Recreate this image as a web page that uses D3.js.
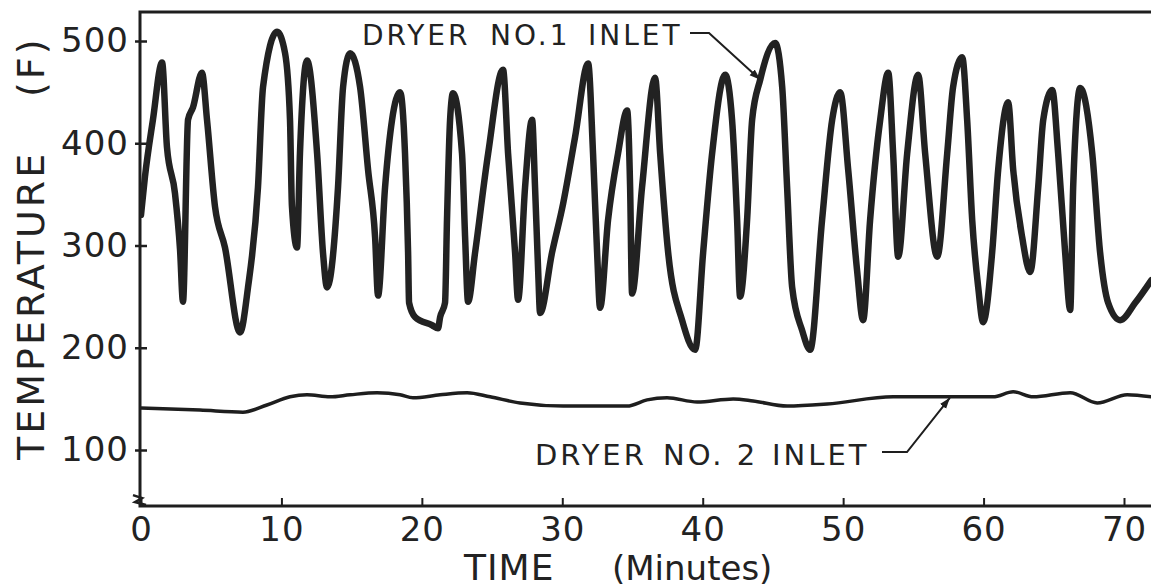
<!DOCTYPE html>
<html>
<head>
<meta charset="utf-8">
<script src="https://cdn.jsdelivr.net/npm/d3@7"></script>
<style>
  body { margin: 0; background: #fff; }
  svg { display: block; }
  text { font-family: "DejaVu Sans", sans-serif; fill: #222; }
</style>
</head>
<body>
<div id="chart"></div>
<script>
// time in minutes, temperature in F
var dryer1Time = [0, 0.28, 0.85, 1.50, 1.85, 2.42, 2.78, 2.99, 3.35, 3.70, 4.34, 4.70, 5.27, 5.98, 7.05,
  7.62, 8.33, 8.69, 9.69, 10.26, 10.61, 10.75, 11.11, 11.32, 11.82, 12.54, 12.96, 13.25, 14.03, 14.39,
  14.89, 15.60, 16.17, 16.67, 16.88, 17.38, 17.88, 18.45, 18.80, 19.02, 19.09, 19.52, 20.73, 21.15,
  21.30, 21.65, 21.79, 22.01, 22.22, 22.86, 23.08, 23.29, 23.79, 24.72, 25.78, 26.14, 26.64, 26.85,
  27.35, 27.85, 28.06, 28.28, 28.42, 29.27, 30.06, 30.91, 31.84, 32.19, 32.48, 32.69, 33.26, 33.97,
  34.62, 34.83, 34.97, 35.68, 36.61, 36.97, 37.54, 38.53, 39.46, 40.03, 40.67, 41.60, 42.09, 42.45,
  42.66, 43.16, 43.52, 44.09, 45.16, 45.66, 46.01, 46.37, 47.08, 47.65, 48.50, 49.22, 49.79, 50.36,
  50.99, 51.42, 51.92, 52.64, 53.21, 53.56, 53.92, 54.56, 55.34, 55.84, 56.70, 57.41, 57.83, 58.48,
  58.83, 59.19, 59.62, 59.97, 60.61, 61.04, 61.75, 62.11, 62.75, 63.32, 63.89, 64.25, 64.89, 65.31,
  65.81, 66.17, 66.38, 66.88, 67.74, 68.30, 68.87, 69.73, 70.80, 71.94];
var dryer1Temp = [330, 367, 423, 479, 396, 351, 296, 245, 423, 435, 469, 423, 338, 298, 215,
  259, 357, 455, 509, 488, 423, 338, 298, 390, 481, 390, 293, 259, 357, 455,
  488, 455, 374, 308, 251, 357, 423, 450, 390, 293, 244, 230, 222, 219,
  230, 244, 325, 423, 449, 390, 308, 245, 293, 390, 472, 390, 293, 247,
  357, 423, 357, 276, 234, 293, 341, 406, 478, 390, 293, 239, 325, 390,
  432, 357, 253, 357, 464, 390, 293, 227, 198, 293, 390, 467, 423, 325,
  250, 325, 423, 462, 498, 455, 357, 259, 217, 198, 325, 423, 450, 374,
  276, 227, 325, 423, 469, 390, 289, 390, 467, 390, 289, 390, 455, 484,
  423, 325, 259, 225, 293, 374, 440, 374, 308, 274, 357, 423, 452, 390,
  293, 237, 357, 454, 390, 293, 244, 227, 244, 266];

var dryer2Time = [0, 4.2, 7.26, 8.97, 10.61, 11.82, 13.46, 14.89, 16.81, 18.45, 19.37, 21.30, 23.22,
  24.86, 27.0, 30.06, 34.62, 36.04, 37.46, 39.6, 42.17, 43.59, 46.01, 48.86, 53.56, 57.41, 60.68,
  62.11, 63.53, 66.17, 68.09, 70.23, 71.94];
var dryer2Temp = [141, 139, 137, 144, 152, 154, 152, 154, 156, 154, 151, 154, 156,
  152, 146, 143, 143, 149, 151, 147, 150, 148, 143, 145, 152, 152, 152,
  157, 152, 156, 146, 154, 152];

var xTicks = [0, 10, 20, 30, 40, 50, 60, 70];
var yTicks = [100, 200, 300, 400, 500];

var W = 1151, H = 588;
var pLeft = 140, pRight = 1151, pTop = 12, pBottom = 506;
var ink = "#1e1e1e";

var svg = d3.select("#chart").append("svg")
  .attr("width", W).attr("height", H);

var x = d3.scaleLinear().domain([0, 70]).range([141, 1124]);
var y = d3.scaleLinear().domain([100, 500]).range([450, 41]);

svg.append("clipPath").attr("id", "plot")
  .append("rect").attr("x", pLeft).attr("y", pTop)
  .attr("width", pRight - pLeft).attr("height", pBottom - pTop);

// frame: left axis, bottom axis, top border
svg.append("path")
  .attr("d", "M" + pRight + "," + pTop + "H" + pLeft + "V" + pBottom + "H" + pRight)
  .attr("fill", "none").attr("stroke", ink).attr("stroke-width", 3);

// little break mark on the y axis
svg.append("path")
  .attr("d", "M133," + (y(52) - 4) + "l9,3 l-7,4 l11,3")
  .attr("fill", "none").attr("stroke", ink).attr("stroke-width", 2.5);

var yAxis = svg.append("g")
  .attr("transform", "translate(147,0)")
  .call(d3.axisLeft(y).tickValues(yTicks).tickSize(12).tickPadding(6));
yAxis.select(".domain").remove();
yAxis.selectAll("line").attr("stroke", ink).attr("stroke-width", 2.5);
yAxis.selectAll("text").attr("font-size", 34).attr("letter-spacing", 1)
  .attr("font-family", "DejaVu Sans").attr("fill", "#222");

var xAxis = svg.append("g")
  .attr("transform", "translate(0," + pBottom + ")")
  .call(d3.axisBottom(x).tickValues(xTicks).tickSizeInner(-8).tickSizeOuter(0).tickPadding(11));
xAxis.select(".domain").remove();
xAxis.selectAll("line").attr("stroke", ink).attr("stroke-width", 2);
xAxis.selectAll("text").attr("font-size", 34).attr("letter-spacing", 1)
  .attr("font-family", "DejaVu Sans").attr("fill", "#222");

var line = d3.line()
  .x(function(d) { return x(d[0]); })
  .y(function(d) { return y(d[1]); })
  .curve(d3.curveMonotoneX);

var plot = svg.append("g").attr("clip-path", "url(#plot)");

plot.append("path")
  .datum(d3.zip(dryer2Time, dryer2Temp))
  .attr("d", line)
  .attr("fill", "none").attr("stroke", ink).attr("stroke-width", 3.5)
  .attr("stroke-linejoin", "round");

plot.append("path")
  .datum(d3.zip(dryer1Time, dryer1Temp))
  .attr("d", line)
  .attr("fill", "none").attr("stroke", "#222").attr("stroke-width", 6.5)
  .attr("stroke-linejoin", "round").attr("stroke-linecap", "round");

// axis titles
svg.append("text")
  .attr("transform", "translate(44,460) rotate(-90)")
  .attr("font-size", 38).attr("letter-spacing", 3)
  .text("TEMPERATURE");
svg.append("text")
  .attr("transform", "translate(44,97) rotate(-90)")
  .attr("font-size", 38).attr("letter-spacing", 3)
  .text("(F)");

svg.append("text").attr("x", 464).attr("y", 580)
  .attr("font-size", 36).attr("letter-spacing", 1).text("TIME");
svg.append("text").attr("x", 612).attr("y", 580)
  .attr("font-size", 34).text("(Minutes)");

// arrow head
svg.append("defs").append("marker")
  .attr("id", "arrow").attr("viewBox", "0 0 10 10")
  .attr("refX", 10).attr("refY", 5)
  .attr("markerWidth", 11).attr("markerHeight", 11)
  .attr("markerUnits", "userSpaceOnUse")
  .attr("orient", "auto")
  .append("path").attr("d", "M0,1.5 L10,5 L0,8.5 Z").attr("fill", ink);

// annotation: dryer no.1
var a1 = svg.append("text").attr("y", 45).attr("font-size", 28).attr("letter-spacing", 3);
a1.append("tspan").attr("x", 362).text("DRYER");
a1.append("tspan").attr("x", 490).text("NO.1");
a1.append("tspan").attr("x", 588).text("INLET");
svg.append("path")
  .attr("d", "M690,33 H709 L" + x(44.1) + "," + y(462))
  .attr("fill", "none").attr("stroke", ink).attr("stroke-width", 2)
  .attr("marker-end", "url(#arrow)");

// annotation: dryer no.2
var a2 = svg.append("text").attr("y", 465).attr("font-size", 29).attr("letter-spacing", 3);
a2.append("tspan").attr("x", 535).text("DRYER");
a2.append("tspan").attr("x", 663).text("NO. 2");
a2.append("tspan").attr("x", 772).text("INLET");
svg.append("path")
  .attr("d", "M882,452 H907 L" + x(57.6) + "," + y(151))
  .attr("fill", "none").attr("stroke", ink).attr("stroke-width", 2)
  .attr("marker-end", "url(#arrow)");
</script>
</body>
</html>
